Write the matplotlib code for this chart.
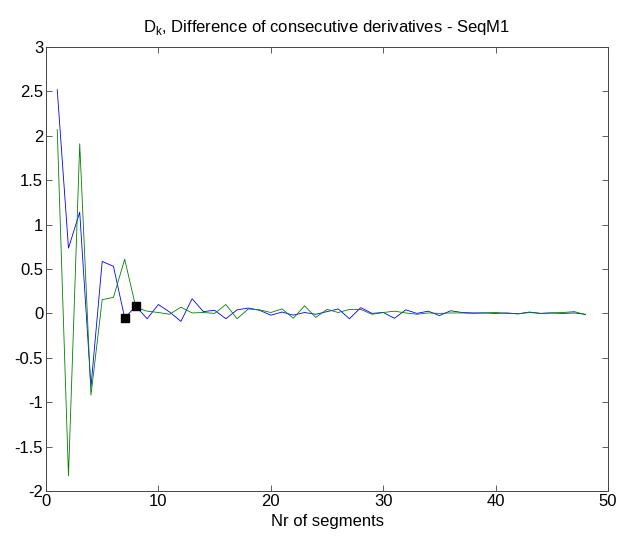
import matplotlib
matplotlib.use("Agg")
import matplotlib.pyplot as plt

plt.rcParams['font.family'] = ['Liberation Sans', 'DejaVu Sans']

x_vals = list(range(1, 49))
blue_vals = [2.52, 0.735, 1.14, -0.83, 0.585, 0.53, -0.05, 0.08, -0.06, 0.10,
             0.015, -0.09, 0.165, 0.02, 0.035, -0.06, 0.04, 0.06, 0.035, -0.02,
             0.015, -0.02, 0.01, -0.01, 0.02, 0.05, -0.06, 0.065, 0.0, 0.01,
             -0.055, 0.04, 0.0, 0.025, -0.025, 0.03, 0.01, 0.005, 0.005, 0.0,
             0.005, -0.005, 0.015, 0.0, 0.005, 0.0, 0.005, -0.01]
green_vals = [2.07, -1.83, 1.91, -0.92, 0.155, 0.18, 0.61, 0.065, 0.025, 0.01,
              -0.01, 0.07, 0.005, 0.01, 0.0, 0.10, -0.06, 0.05, 0.04, 0.01,
              0.05, -0.055, 0.085, -0.045, 0.045, 0.01, 0.045, 0.045, -0.01, 0.01,
              0.025, 0.005, -0.01, 0.005, 0.0, 0.005, 0.005, 0.0, 0.005, 0.01,
              0.0, -0.005, 0.01, 0.0, 0.005, 0.01, 0.02, -0.015]
marker_x = [7, 8]
marker_y = [-0.05, 0.08]

title_text = r"D$_{\mathregular{k}}$, Difference of consecutive derivatives - SeqM1"
xlabel_text = "Nr of segments"
xticks = [0, 10, 20, 30, 40, 50]
yticks = [-2, -1.5, -1, -0.5, 0, 0.5, 1, 1.5, 2, 2.5, 3]
ytick_labels = ["-2", "-1.5", "-1", "-0.5", "0", "0.5", "1", "1.5", "2", "2.5", "3"]

fig = plt.figure(figsize=(6.19, 5.36), dpi=100)
ax = fig.add_axes([0.0743, 0.084, 0.908, 0.8283])

ax.plot(x_vals, blue_vals, color='#0000ff', lw=0.6)
ax.plot(x_vals, green_vals, color='#008000', lw=0.6)
ax.plot(marker_x, marker_y, linestyle='none', marker='s', color='black',
        markersize=5.5)

ax.set_xlim(0, 50)
ax.set_ylim(-2, 3)
ax.set_xticks(xticks)
ax.set_xticklabels([str(t) for t in xticks])
ax.set_yticks(yticks)
ax.set_yticklabels(ytick_labels)
ax.tick_params(direction='in', top=True, right=True, length=4, width=0.6,
               labelsize=12, pad=2, color='#444444')
for s in ax.spines.values():
    s.set_linewidth(0.7)
    s.set_color('#444444')

ax.set_title(title_text, fontsize=12, pad=11)
ax.set_xlabel(xlabel_text, fontsize=12, labelpad=4)

fig.savefig("out.png", dpi=100)
